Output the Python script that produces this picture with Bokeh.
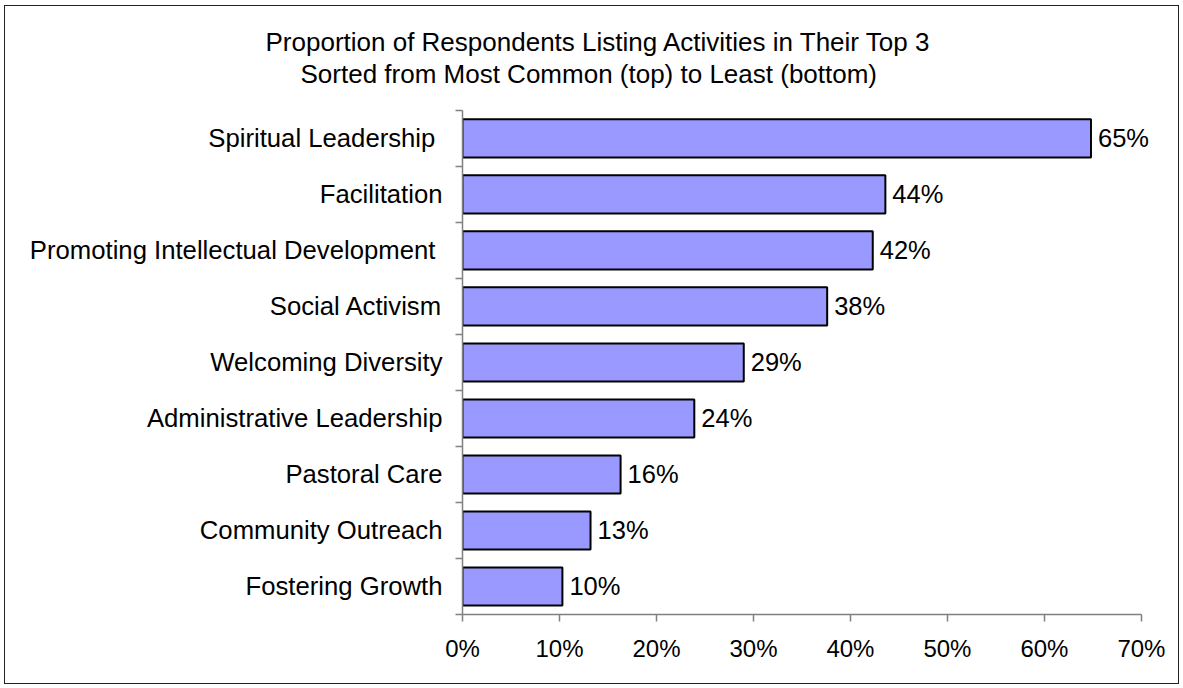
from bokeh.plotting import figure
from bokeh.models import (ColumnDataSource, Range1d, LinearAxis, FixedTicker,
                          NumeralTickFormatter, LabelSet, Title)
from bokeh.core.properties import value
from bokeh.embed import file_html
from bokeh.resources import INLINE

# ---- data ----
categories = ["Spiritual Leadership\u00a0", "Facilitation",
              "Promoting Intellectual Development\u00a0", "Social Activism",
              "Welcoming Diversity", "Administrative Leadership",
              "Pastoral Care", "Community Outreach", "Fostering Growth"]
values = [0.648, 0.436, 0.423, 0.376, 0.290, 0.239, 0.163, 0.132, 0.103]
x_ticks = [0.0, 0.1, 0.2, 0.3, 0.4, 0.5, 0.6, 0.7]
title_lines = ["Proportion of Respondents Listing Activities in Their Top 3",
               "Sorted from Most Common (top) to Least (bottom)"]

n = len(categories)
ypos = [n - i - 0.5 for i in range(n)]
labels = [f"{round(v * 100):.0f}%" for v in values]
src = ColumnDataSource(dict(y=ypos, v=values, cat=categories, lab=labels))

FONT = "Liberation Sans"
AX = "#808080"

p = figure(width=1173, height=677, output_backend="svg", toolbar_location=None,
           x_range=Range1d(0, 0.73), y_range=Range1d(0, 9.39),
           x_axis_location=None, y_axis_location=None,
           min_border_left=457, min_border_right=8,
           min_border_top=82, min_border_bottom=69)
p.margin = (6, 0, 0, 5)
p.outline_line_color = None
p.xgrid.visible = False
p.ygrid.visible = False
p.background_fill_color = "white"
p.border_fill_color = "white"
p.styles = {"outline": "1px solid #222222", "outline-offset": "0px"}

p.hbar(y="y", right="v", left=0, height=0.68, source=src,
       fill_color="#9999FF", line_color="black", line_width=2)

# value labels
p.add_layout(LabelSet(x="v", y="y", text="lab", source=src, x_offset=7,
                      text_baseline="middle", text_align="left",
                      text_font=value(FONT), text_font_size=value("25.5px"),
                      text_color="black"))

# x axis
xa = LinearAxis(ticker=FixedTicker(ticks=x_ticks),
                formatter=NumeralTickFormatter(format="0%"),
                bounds=(x_ticks[0], x_ticks[-1]))
xa.axis_line_color = AX
xa.axis_line_width = 1.5
xa.major_tick_line_color = AX
xa.major_tick_line_width = 1.5
xa.major_tick_out = 7
xa.major_tick_in = 0
xa.minor_tick_line_color = None
xa.major_label_standoff = 13
xa.major_label_text_font = FONT
xa.major_label_text_font_size = "24px"
xa.major_label_text_color = "black"
p.add_layout(xa, "below")

# y axis: boundary ticks
ya = LinearAxis(ticker=FixedTicker(ticks=list(range(n + 1))), bounds=(0, n))
ya.major_label_overrides = {i: "" for i in range(n + 1)}
ya.axis_line_color = AX
ya.axis_line_width = 1.5
ya.major_tick_line_color = AX
ya.major_tick_line_width = 1.5
ya.major_tick_out = 7
ya.major_tick_in = 0
ya.minor_tick_line_color = None
ya.major_label_standoff = 0
ya.major_label_text_font_size = "1px"
p.add_layout(ya, "left")

# y axis: category labels
yl = LinearAxis(ticker=FixedTicker(ticks=ypos))
yl.major_label_overrides = {y: c for y, c in zip(ypos, categories)}
yl.axis_line_color = None
yl.major_tick_line_color = None
yl.minor_tick_line_color = None
yl.major_tick_out = 0
yl.major_tick_in = 0
yl.major_label_standoff = 13
yl.major_label_text_font = FONT
yl.major_label_text_font_size = "25.7px"
yl.major_label_text_color = "black"
p.add_layout(yl, "left")

# titles (second line nearest the plot)
for line, off in zip(reversed(title_lines), [-162, -197]):
    t = Title(text=line, align="left", offset=off, text_font=FONT,
              text_font_size="26px", text_font_style="normal",
              text_color="black", standoff=0)
    p.add_layout(t, "above")

open("out.html", "w").write(file_html(p, INLINE))
